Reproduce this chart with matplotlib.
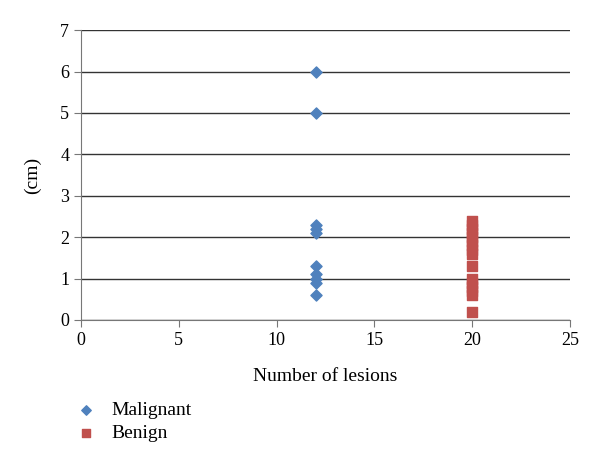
import matplotlib
matplotlib.use("Agg")
import matplotlib.pyplot as plt

# data
malignant_x = [12] * 10
malignant_y = [6, 5, 2.3, 2.2, 2.1, 1.3, 1.1, 1.0, 0.9, 0.6]
benign_y = [2.4, 2.3, 2.2, 2.1, 2.0, 1.9, 1.8, 1.7, 1.6, 1.3,
            1.0, 0.9, 0.8, 0.7, 0.6, 0.2]
benign_x = [20] * len(benign_y)

plt.rcParams["font.family"] = ["Liberation Serif", "DejaVu Serif"]

fig = plt.figure(figsize=(6, 4.63), dpi=100)
ax = fig.add_axes([0.135, 0.309, 0.815, 0.626])

ax.scatter(malignant_x, malignant_y, marker="D", s=32, color="#4F81BD",
           label="Malignant", zorder=3)
ax.scatter(benign_x, benign_y, marker="s", s=56, color="#C0504D",
           label="Benign", zorder=3)

ax.set_xlim(0, 25)
ax.set_ylim(0, 7)
ax.set_xticks([0, 5, 10, 15, 20, 25])
ax.set_yticks(range(8))
ax.yaxis.grid(True, color="#333333", linewidth=1)
ax.set_axisbelow(True)
for s in ["top", "right"]:
    ax.spines[s].set_visible(False)
ax.spines["left"].set_color("#777777")
ax.spines["bottom"].set_color("#777777")
ax.tick_params(axis="both", labelsize=13, color="#777777", length=5)

ax.set_xlabel("Number of lesions", fontsize=14, labelpad=14)
ax.set_ylabel("(cm)", fontsize=14, labelpad=14)

ax.legend(loc="upper left", bbox_to_anchor=(-0.065, -0.22), frameon=False,
          fontsize=14, handletextpad=0.3, labelspacing=0.3, markerscale=0.85)

fig.savefig("out.png", dpi=100)
